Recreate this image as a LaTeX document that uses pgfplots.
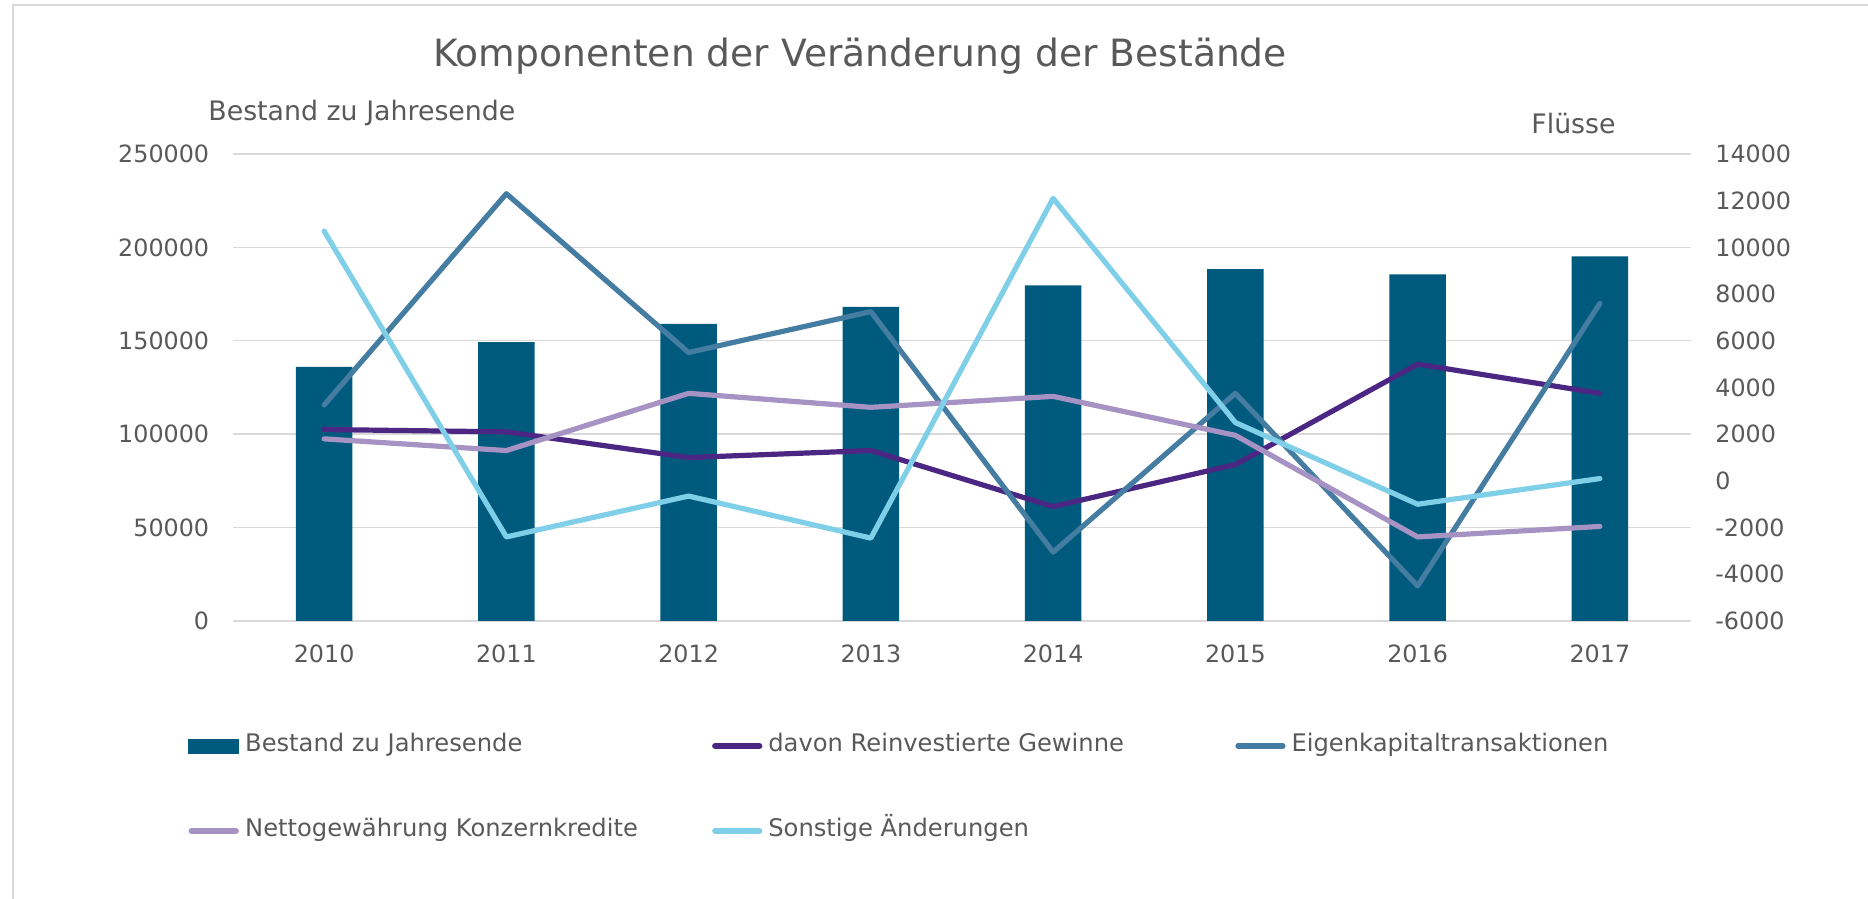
\documentclass[border=0pt]{standalone}
\usepackage{fontspec}
\setmainfont{DejaVu Sans}
\usepackage{pgfplots}
\pgfplotsset{compat=1.18}

\definecolor{bestand}{HTML}{005A7E}
\definecolor{reinv}{HTML}{4B2683}
\definecolor{eigen}{HTML}{457CA2}
\definecolor{netto}{HTML}{A693C4}
\definecolor{sonst}{HTML}{7FCFE8}
\definecolor{txt}{HTML}{595959}
\definecolor{gridc}{HTML}{D9D9D9}

\pgfplotsset{
  common/.style={
    at={(116.5pt,139pt)}, anchor=south west,
    scale only axis, width=729pt, height=233.5pt,
    xmin=-0.5, xmax=7.5,
    axis line style={draw=none}, major tick length=0pt,
    scaled ticks=false,
    tick label style={font=\fontsize{11.9}{14}\selectfont, text=txt, inner sep=0pt},
    /pgf/number format/assume math mode=true,
    /pgf/number format/fixed,
    /pgf/number format/precision=0,
    /pgf/number format/1000 sep={},
  },
  flow/.style={line width=2.6pt, line join=round, line cap=round},
}

\begin{document}
\begin{tikzpicture}
\path[use as bounding box] (0,0) rectangle (934pt,449.5pt);
\draw[gridc, line width=1pt] (6.5pt,0pt) -- (6.5pt,447pt) -- (934pt,447pt);

% Bestand (linke Achse)
\begin{axis}[common,
    ymin=0, ymax=250000,
    ytick={0,50000,100000,150000,200000,250000},
    xtick={0,1,2,3,4,5,6,7},
    xticklabels={2010,2011,2012,2013,2014,2015,2016,2017},
    xticklabel style={anchor=north, yshift=-11.5pt},
    yticklabel style={anchor=east, xshift=-11.75pt},
    ymajorgrids, grid style={gridc, line width=0.7pt},
]
\addplot[ybar, bar width=28.3pt, fill=bestand, draw=none] coordinates {
(0,136000) (1,149300) (2,159000) (3,168200)
(4,179700) (5,188300) (6,185600) (7,195200)};
\end{axis}

% Fluesse (rechte Achse)
\begin{axis}[common,
    ymin=-6000, ymax=14000,
    ytick={-6000,-4000,...,14000},
    xtick=\empty,
    yticklabel pos=right,
    yticklabel style={anchor=west, xshift=12pt},
    legend columns=3,
    legend cell align=left,
    legend style={draw=none, fill=none, inner sep=0pt,
      at={(-0.0309,-0.241)}, anchor=north west,
      font=\fontsize{12.1}{14}\selectfont, text=txt,
      nodes={inner sep=0pt, text height=9pt, text depth=3pt},
      row sep=30.5pt, column sep=0pt,
      /tikz/every odd column/.append style={column sep=3pt}},
    legend image code/.code={\draw[#1] (1.25pt,0pt) -- (23.75pt,0pt);},
]
\addlegendimage{legend image code/.code={\fill[bestand] (0pt,-3.5pt) rectangle (25pt,3.5pt);}}
\addlegendentry{\makebox[233.5pt][l]{Bestand zu Jahresende}}
\addplot[flow, reinv] coordinates {
(0,2200) (1,2100) (2,1000) (3,1300) (4,-1100) (5,700) (6,5000) (7,3750)};
\addlegendentry{\makebox[233.5pt][l]{davon Reinvestierte Gewinne}}
\addplot[flow, eigen] coordinates {
(0,3250) (1,12300) (2,5500) (3,7250) (4,-3050) (5,3750) (6,-4500) (7,7600)};
\addlegendentry{Eigenkapitaltransaktionen}
\addplot[flow, netto] coordinates {
(0,1800) (1,1300) (2,3750) (3,3150) (4,3620) (5,1950) (6,-2400) (7,-1950)};
\addlegendentry{\makebox[233.5pt][l]{Nettogewährung Konzernkredite}}
\addplot[flow, sonst] coordinates {
(0,10700) (1,-2400) (2,-650) (3,-2450) (4,12100) (5,2500) (6,-1000) (7,100)};
\addlegendentry{\makebox[233.5pt][l]{Sonstige Änderungen}}
\end{axis}

\node[anchor=center, text=txt, font=\fontsize{18.8}{21}\selectfont] at (430pt,421.5pt)
  {Komponenten der Veränderung der Bestände};
\node[anchor=west, inner sep=0pt, text=txt, font=\fontsize{13.4}{15}\selectfont] at (104pt,393pt)
  {Bestand zu Jahresende};
\node[anchor=center, inner sep=0pt, text=txt, font=\fontsize{13.4}{15}\selectfont] at (786.75pt,387.5pt)
  {Flüsse};
\end{tikzpicture}
\end{document}
